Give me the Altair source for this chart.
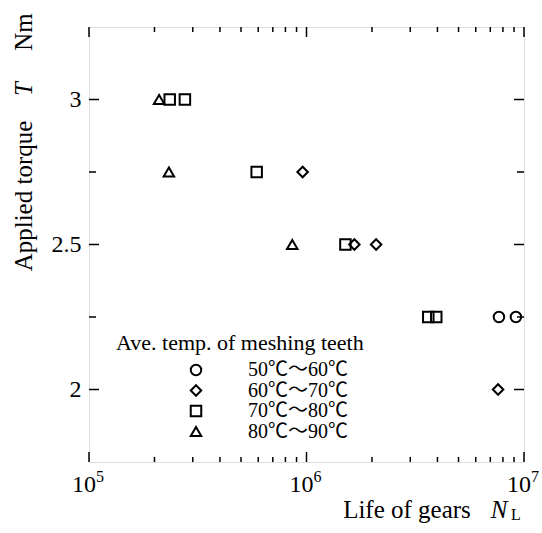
import altair as alt
import pandas as pd

# ---- data ----
temp_labels = ["50℃～60℃", "60℃～70℃", "70℃～80℃", "80℃～90℃"]
n_50 = [7.67e6, 9.18e6]
t_50 = [2.25, 2.25]
n_60 = [9.6e5, 1.66e6, 2.09e6, 7.6e6]
t_60 = [2.75, 2.5, 2.5, 2.0]
n_70 = [2.35e5, 2.76e5, 5.9e5, 1.51e6, 3.63e6, 3.95e6]
t_70 = [3.0, 3.0, 2.75, 2.5, 2.25, 2.25]
n_80 = [2.10e5, 2.33e5, 8.6e5]
t_80 = [3.0, 2.75, 2.5]

x_major = [1e5, 1e6, 1e7]
x_exponents = ["5", "6", "7"]
x_minor = [2e5, 3e5, 4e5, 5e5, 6e5, 7e5, 8e5, 9e5,
           2e6, 3e6, 4e6, 5e6, 6e6, 7e6, 8e6, 9e6]
y_major = [2.0, 2.5, 3.0]
y_minor = [2.25, 2.75]

FONT = "Liberation Serif, Times New Roman, serif"
LEG_FONT = "Liberation Serif, Noto Sans CJK JP, serif"
W, H = 435, 435

rows = []
for lab, ns, ts in zip(temp_labels, [n_50, n_60, n_70, n_80], [t_50, t_60, t_70, t_80]):
    for n, t in zip(ns, ts):
        rows.append({"N": n, "T": t, "temp": lab})
df = pd.DataFrame(rows)

xscale = alt.Scale(type="log", domain=[1e5, 1e7])
yscale = alt.Scale(domain=[1.75, 3.25], nice=False, zero=False)

xaxis = alt.Axis(values=x_major, ticks=False, tickSize=0, domain=False, grid=False,
                 title=None, labels=False)
yaxis = alt.Axis(values=y_major, ticks=False, tickSize=0, domain=False, grid=False,
                 title=None, labelFont=FONT, labelFontSize=24, labelColor="black",
                 labelPadding=8, format=".1~f")

points = alt.Chart(df).mark_point(filled=False, stroke="black", strokeWidth=2, size=110, opacity=1).encode(
    x=alt.X("N:Q", scale=xscale, axis=xaxis),
    y=alt.Y("T:Q", scale=yscale, axis=yaxis),
    shape=alt.Shape("temp:N",
                    scale=alt.Scale(domain=temp_labels,
                                    range=["circle", "diamond", "square", "triangle-up"]),
                    legend=alt.Legend(title="Ave. temp. of meshing teeth", orient="none",
                                      legendX=27, legendY=306, titleLimit=500, labelLimit=300,
                                      titleFont=FONT, titleFontSize=22, titleFontWeight="normal",
                                      titleColor="black", titlePadding=5,
                                      labelFont=LEG_FONT, labelFontSize=20, labelColor="black",
                                      symbolOffset=70, labelOffset=42, rowPadding=0.5,
                                      symbolSize=110, symbolStrokeWidth=2,
                                      symbolStrokeColor="black", symbolFillColor="transparent")),
)

def xticks(vals, y1, y2):
    return alt.Chart(pd.DataFrame({"v": vals})).mark_rule(color="black", strokeWidth=1.5).encode(
        x=alt.X("v:Q", scale=xscale, axis=xaxis), y=alt.value(y1), y2=alt.value(y2))

def yticks(vals, x1, x2):
    return alt.Chart(pd.DataFrame({"v": vals})).mark_rule(color="black", strokeWidth=1.5).encode(
        y=alt.Y("v:Q", scale=yscale, axis=yaxis), x=alt.value(x1), x2=alt.value(x2))

tick_layers = [
    xticks(x_major, H, H - 10), xticks(x_major, 0, 10),
    xticks(x_minor, H, H - 5), xticks(x_minor, 0, 5),
    yticks(y_major, 0, 10), yticks(y_major, W, W - 10),
    yticks(y_minor, 0, 7), yticks(y_minor, W, W - 7),
]

# x tick labels: "10" with a raised exponent, placed by the x scale
xlab_df = pd.DataFrame({"v": x_major, "e": x_exponents})
xlab_base = alt.Chart(xlab_df).mark_text(font=FONT, fontSize=24, color="black",
                                         align="right", baseline="middle", dx=7).encode(
    x=alt.X("v:Q", scale=xscale, axis=xaxis), y=alt.value(H + 23), text=alt.value("10"))
xlab_exp = alt.Chart(xlab_df).mark_text(font=FONT, fontSize=16, color="black",
                                        align="left", baseline="middle", dx=7).encode(
    x=alt.X("v:Q", scale=xscale, axis=xaxis), y=alt.value(H + 15), text="e:N")

one = pd.DataFrame({"a": [0]})

def label(txt, x, y, size=25, angle=0, style="normal", align="center"):
    return alt.Chart(one).mark_text(text=txt, font=FONT, fontSize=size, angle=angle,
                                    fontStyle=style, color="black",
                                    align=align, baseline="middle").encode(
        x=alt.value(x), y=alt.value(y))

titles = [
    label("Applied torque", -65, 169, angle=270),
    label("T", -65, 62, angle=270, style="italic"),
    label("Nm", -65, 5, angle=270),
    label("Life of gears", 318, 483),
    label("N", 410, 483, style="italic"),
    label("L", 422, 488, size=16, align="left"),
]

chart = alt.layer(points, *tick_layers, xlab_base, xlab_exp, *titles).properties(
    width=W, height=H,
    autosize=alt.AutoSizeParams(type="none"),
    padding={"left": 89, "top": 27, "right": 18, "bottom": 71},
).configure_view(stroke="black", strokeWidth=2.5).configure(background="white")

chart.save("out.html", embed_options={"renderer": "svg", "actions": False})
